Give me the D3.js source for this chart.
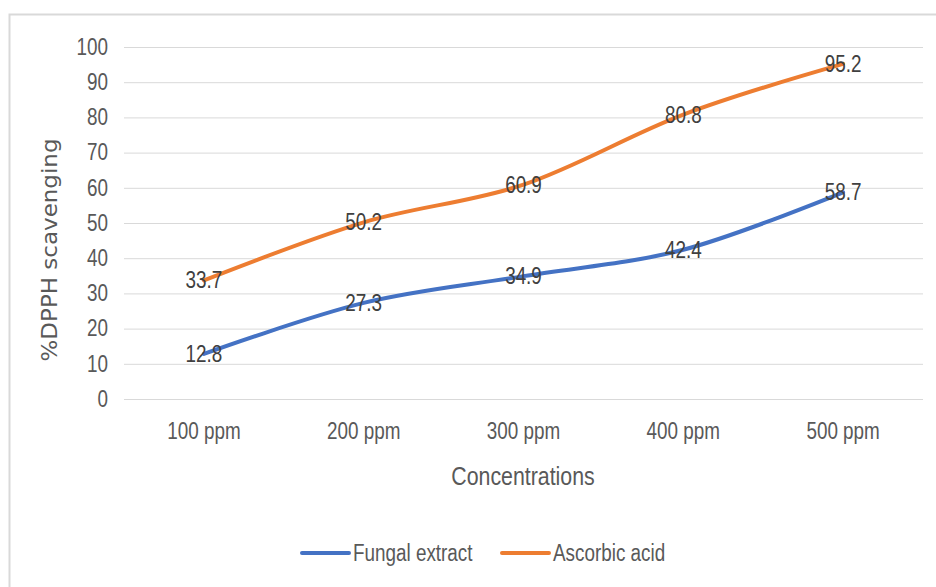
<!DOCTYPE html>
<html lang="en">
<head>
  <meta charset="UTF-8">
  <title>DPPH scavenging</title>
  <style>
    body { margin: 0; background: #fff; }
    svg text { font-family: "Liberation Sans", Arial, sans-serif; }
  </style>
</head>
<body>
  <script src="https://d3js.org/d3.v7.min.js"></script>
  <svg id="chart" width="936" height="587"></svg>
  <script>
    // data
    const categories = ["100 ppm", "200 ppm", "300 ppm", "400 ppm", "500 ppm"];
    const fungal = [12.8, 27.3, 34.9, 42.4, 58.7];
    const ascorbic = [33.7, 50.2, 60.9, 80.8, 95.2];
    const yTicks = [0, 10, 20, 30, 40, 50, 60, 70, 80, 90, 100];

    const series = [
      { name: "Fungal extract", values: fungal, color: "#4472C4" },
      { name: "Ascorbic acid", values: ascorbic, color: "#ED7D31" }
    ];

    const svg = d3.select("svg#chart");

    // chart area border (only top and left visible in the crop)
    svg.append("rect")
      .attr("x", 9.5).attr("y", 14.5)
      .attr("width", 960).attr("height", 600)
      .attr("fill", "#fff")
      .attr("stroke", "#d9d9d9")
      .attr("stroke-width", 2);

    const plot = { left: 124, right: 923, top: 47, bottom: 399 };

    const x = d3.scaleBand()
      .domain(categories)
      .range([plot.left, plot.right]);

    const y = d3.scaleLinear()
      .domain([0, 100])
      .range([plot.bottom, plot.top]);

    // gridlines
    svg.append("g")
      .selectAll("line")
      .data(yTicks)
      .join("line")
      .attr("x1", plot.left).attr("x2", plot.right)
      .attr("y1", d => y(d) + 0.5).attr("y2", d => y(d) + 0.5)
      .attr("stroke", "#d9d9d9")
      .attr("stroke-width", 1);

    // y axis labels
    const yAxis = svg.append("g")
      .attr("transform", "translate(" + plot.left + ",0)")
      .call(d3.axisLeft(y).tickValues(yTicks).tickSize(0).tickPadding(16));
    yAxis.select(".domain").remove();
    yAxis.selectAll("text")
      .attr("class", "narrow")
      .attr("fill", "#595959")
      .style("font-size", "23px");

    // x axis labels
    const xAxis = svg.append("g")
      .attr("transform", "translate(0," + plot.bottom + ")")
      .call(d3.axisBottom(x).tickSize(0).tickPadding(24));
    xAxis.select(".domain").remove();
    xAxis.selectAll("text")
      .attr("class", "narrow")
      .attr("fill", "#595959")
      .style("font-size", "23px");

    // lines
    const line = d3.line()
      .x((d, i) => x(categories[i]) + x.bandwidth() / 2)
      .y(d => y(d))
      .curve(d3.curveCatmullRom.alpha(0));

    series.forEach(function (s) {
      svg.append("path")
        .datum(s.values)
        .attr("d", line)
        .attr("fill", "none")
        .attr("stroke", s.color)
        .attr("stroke-width", 4)
        .attr("stroke-linecap", "round")
        .attr("stroke-linejoin", "round");
    });

    // data labels, centred on the points
    series.forEach(function (s) {
      svg.append("g")
        .selectAll("text")
        .data(s.values)
        .join("text")
        .attr("class", "narrow")
        .attr("x", (d, i) => x(categories[i]) + x.bandwidth() / 2)
        .attr("y", d => y(d))
        .attr("dy", "0.35em")
        .attr("text-anchor", "middle")
        .attr("fill", "#404040")
        .style("font-size", "23px")
        .text(d => d.toFixed(1));
    });

    // axis titles
    svg.append("text")
      .attr("class", "narrow")
      .attr("x", 523)
      .attr("y", 485)
      .attr("text-anchor", "middle")
      .attr("fill", "#595959")
      .style("font-size", "26px")
      .text("Concentrations");

    svg.append("text")
      .attr("transform", "translate(57,250) rotate(-90)")
      .attr("text-anchor", "middle")
      .attr("fill", "#595959")
      .attr("textLength", 223)
      .attr("lengthAdjust", "spacingAndGlyphs")
      .style("font-family", "'DejaVu Sans', sans-serif")
      .style("font-size", "21px")
      .text("%DPPH scavenging");

    // legend
    const legend = svg.append("g");
    const legendX = [302, 502];
    series.forEach(function (s, i) {
      legend.append("line")
        .attr("x1", legendX[i]).attr("x2", legendX[i] + 47)
        .attr("y1", 553).attr("y2", 553)
        .attr("stroke", s.color)
        .attr("stroke-width", 4)
        .attr("stroke-linecap", "round");
      legend.append("text")
        .attr("class", "narrow")
        .attr("x", legendX[i] + 51)
        .attr("y", 553)
        .attr("dy", "0.35em")
        .attr("fill", "#595959")
        .style("font-size", "23px")
        .text(s.name);
    });

    // squeeze the Calibri-like labels horizontally
    svg.selectAll("text.narrow").each(function () {
      const w = this.getComputedTextLength();
      d3.select(this)
        .attr("textLength", w * 0.82)
        .attr("lengthAdjust", "spacingAndGlyphs");
    });
  </script>
</body>
</html>
